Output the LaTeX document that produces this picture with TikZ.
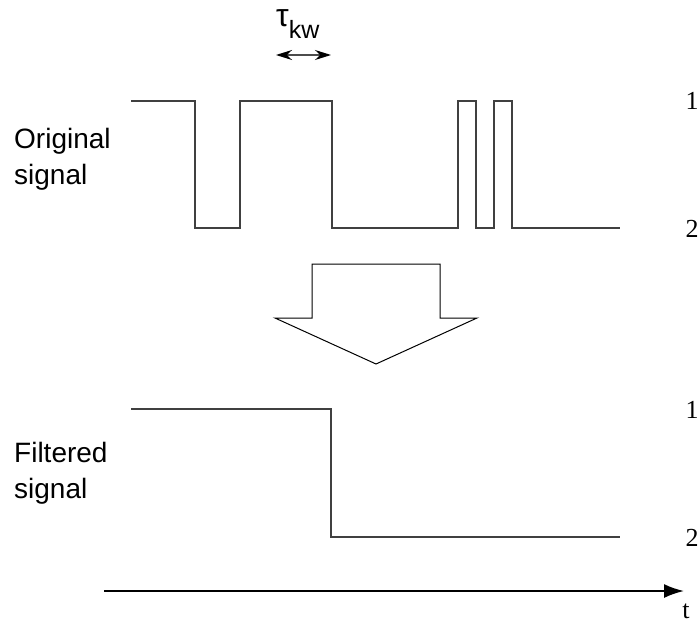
\documentclass[tikz,border=0pt]{standalone}
\usepackage{fontspec}
\setmainfont{Liberation Serif}
\setsansfont{Liberation Sans}
\usetikzlibrary{arrows.meta}

\begin{document}
\begin{tikzpicture}[x=1pt,y=-1pt,
    sig/.style={line width=1.4pt, black!75},
    lbl/.style={font=\sffamily\fontsize{28}{36}\selectfont, align=left, anchor=north west, inner sep=0pt},
    lvl/.style={font=\fontsize{26}{26}\selectfont, inner sep=0pt}]
  \useasboundingbox (0,0) rectangle (700,623);

  % original signal
  \node[lbl] (orig) at (14,128) {Original\\signal};
  \draw[sig] (131,101) -- (195,101) -- (195,228) -- (240,228) -- (240,101)
             -- (332,101) -- (332,228) -- (458,228) -- (458,101) -- (476,101)
             -- (476,228) -- (494,228) -- (494,101) -- (512,101) -- (512,228)
             -- (620,228);
  \node[lvl] (o1) at (692,101) {1};
  \node[lvl] (o2) at (692,229) {2};

  % window
  \node[font=\sffamily, inner sep=0pt, anchor=base west] (tau) at (276,27)
       {\fontsize{32}{32}\selectfont τ\raisebox{-12pt}{\fontsize{25}{25}\selectfont kw}};
  \coordinate (kwl) at (276,55);
  \coordinate (kwr) at (331,55);
  \draw[line width=1.2pt, black!70, {Stealth[length=16pt,width=10pt,black]}-{Stealth[length=16pt,width=10pt,black]}] (kwl) -- (kwr);

  % filter arrow
  \draw[line width=1pt] (312,318) -- (312,264) -- (440,264) -- (440,318)
        -- (477,318) -- (376,364) -- (275,318) -- cycle;

  % filtered signal
  \node[lbl] (filt) at (14,442) {Filtered\\signal};
  \draw[sig] (131,409) -- (331,409) -- (331,537) -- (620,537);
  \node[lvl] (f1) at (692,410) {1};
  \node[lvl] (f2) at (692,538) {2};

  % time axis
  \coordinate (t0) at (104,591);
  \coordinate (t1) at (684,591);
  \draw[line width=2pt, -{Latex[length=20pt,width=14pt]}] (t0) -- (t1);
  \node[lvl] (t) at (686,611) {t};
\end{tikzpicture}
\end{document}
